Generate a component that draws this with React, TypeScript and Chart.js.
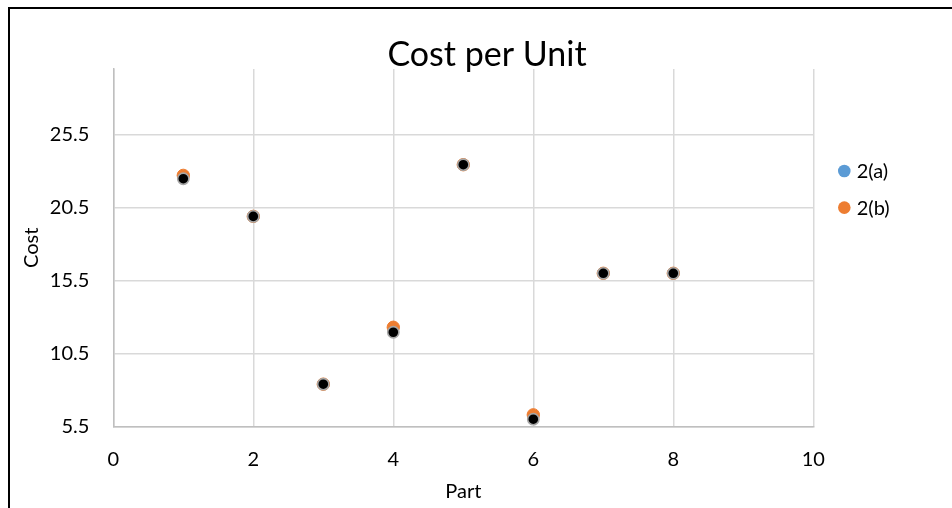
import { useEffect, useRef } from 'react';
import { Chart, registerables } from 'chart.js';

Chart.register(...registerables);

const parts = [1, 2, 3, 4, 5, 6, 7, 8];
const cost2a = [22.48, 19.9, 8.4, 11.96, 23.44, 6.0, 16.0, 16.0];
const cost2b = [22.71, 19.9, 8.4, 12.3, 23.44, 6.3, 16.0, 16.0];
const seriesLabels = ['2(a)', '2(b)'];
const legendColors = ['#5b9bd5', '#ed7d31'];
const xTicks = [0, 2, 4, 6, 8, 10];
const yTicks = [5.5, 10.5, 15.5, 20.5, 25.5];
const chartTitle = 'Cost per Unit';
const xTitle = 'Part';
const yTitle = 'Cost';

const FONT = 'Lato';

const sideLegend = {
  id: 'sideLegend',
  afterDraw(chart: any) {
    const { ctx, chartArea } = chart;
    ctx.save();
    ctx.font = `20px ${FONT}`;
    ctx.textBaseline = 'middle';
    ctx.textAlign = 'left';
    seriesLabels.forEach((label, i) => {
      const cx = chartArea.right + 31;
      const cy = chartArea.top + 102 + i * 36.6;
      ctx.beginPath();
      ctx.arc(cx, cy, 6.3, 0, Math.PI * 2);
      ctx.fillStyle = legendColors[i];
      ctx.fill();
      ctx.fillStyle = '#000';
      ctx.fillText(label, cx + 12.4, cy + 1);
    });
    ctx.restore();
  },
};

export default function App() {
  const ref = useRef<HTMLCanvasElement | null>(null);

  useEffect(() => {
    if (!ref.current) return;
    Chart.defaults.font.family = FONT;
    Chart.defaults.color = '#000';
    const chart = new Chart(ref.current, {
      type: 'scatter',
      data: {
        datasets: [
          {
            label: seriesLabels[0],
            data: parts.map((p, i) => ({ x: p, y: cost2a[i] })),
            backgroundColor: '#000000',
            borderColor: '#a6a6a6',
            borderWidth: 1.6,
            pointRadius: 5.6,
            pointHoverRadius: 5.6,
          },
          {
            label: seriesLabels[1],
            data: parts.map((p, i) => ({ x: p, y: cost2b[i] })),
            backgroundColor: legendColors[1],
            borderColor: legendColors[1],
            borderWidth: 1,
            pointRadius: 6.2,
            pointHoverRadius: 6.2,
          },
        ],
      },
      options: {
        responsive: false,
        animation: false,
        layout: { padding: { left: 0, right: 0, top: 0, bottom: 0 } },
        plugins: {
          legend: { display: false },
          tooltip: { enabled: false },
          title: {
            display: true,
            text: chartTitle,
            color: '#000',
            font: { family: FONT, size: 34, weight: 'normal', lineHeight: 1 },
            padding: { top: 29, bottom: -3 },
          },
        },
        scales: {
          x: {
            type: 'linear',
            min: 0,
            max: 10,
            afterBuildTicks: (scale: any) => {
              scale.ticks = xTicks.map((v) => ({ value: v }));
            },
            afterFit: (scale: any) => {
              scale.height = 81.5;
            },
            ticks: {
              color: '#000',
              font: { family: FONT, size: 20 },
              padding: 21,
            },
            grid: { color: '#d9d9d9', lineWidth: 1.5, drawTicks: false },
            border: { color: '#bfbfbf', width: 1.5 },
            title: {
              display: true,
              text: xTitle,
              color: '#000',
              font: { family: FONT, size: 20 },
              padding: { top: 0, bottom: 4 },
            },
          },
          y: {
            type: 'linear',
            min: 5.5,
            max: 30,
            afterBuildTicks: (scale: any) => {
              scale.ticks = yTicks.map((v) => ({ value: v }));
            },
            afterFit: (scale: any) => {
              scale.width = 103.3;
            },
            ticks: {
              color: '#000',
              font: { family: FONT, size: 20 },
              padding: 24,
              callback: (v: any) => String(v),
            },
            grid: { color: '#d9d9d9', lineWidth: 1.5, drawTicks: false },
            border: { color: '#bfbfbf', width: 1.5 },
            title: {
              display: true,
              text: yTitle,
              color: '#000',
              font: { family: FONT, size: 20 },
              padding: { top: 10, bottom: 0 },
            },
          },
          legendSpace: {
            type: 'linear',
            position: 'right',
            display: true,
            afterFit: (scale: any) => {
              scale.width = 150.7;
            },
            ticks: { display: false },
            grid: { display: false, drawTicks: false },
            border: { display: false },
            title: { display: false },
          },
        },
      },
      plugins: [sideLegend],
    });
    return () => chart.destroy();
  }, []);

  return (
    <div style={{ position: 'absolute', left: 0, top: 0, width: 952, height: 508, overflow: 'hidden', background: '#fff' }}>
      <div
        style={{
          position: 'absolute',
          left: 8,
          top: 7,
          width: 990,
          height: 540,
          border: '2px solid #000',
          boxSizing: 'border-box',
        }}
      >
        <canvas ref={ref} width={954} height={499} style={{ position: 'absolute', left: 0, top: 0, width: 954, height: 499 }} />
      </div>
    </div>
  );
}
